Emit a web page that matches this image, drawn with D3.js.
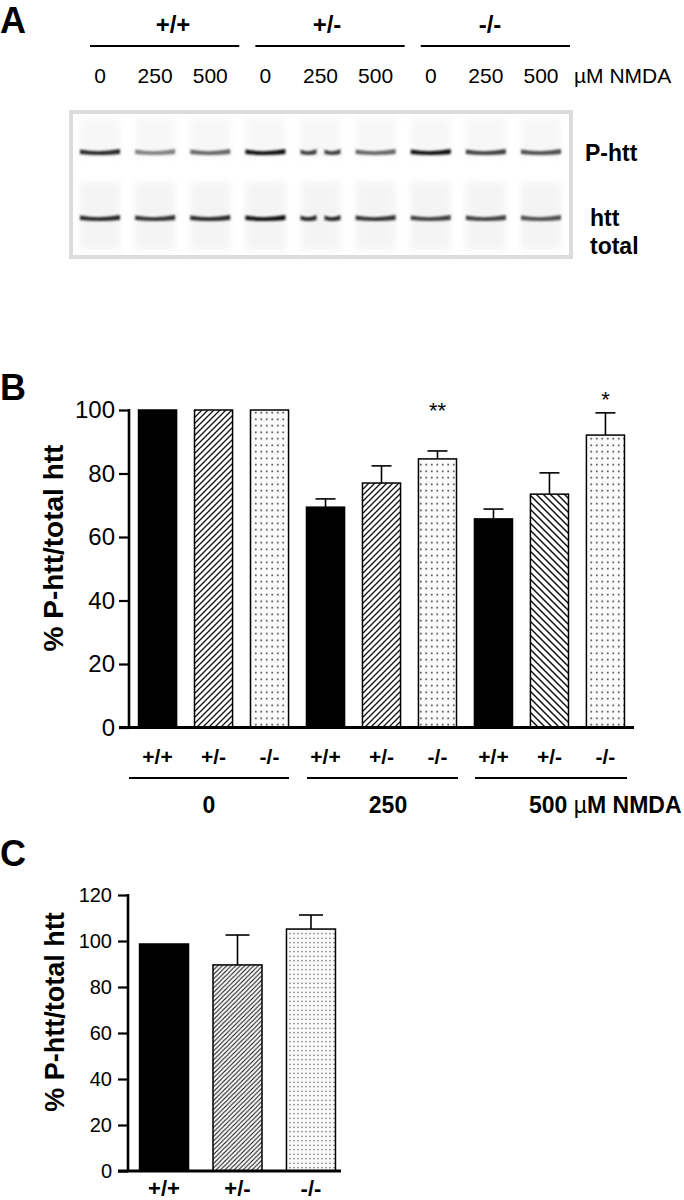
<!doctype html>
<html lang="en">
  <head>
    <meta charset="UTF-8"/>
    <title>P-htt / total htt</title>
    <script src="https://cdnjs.cloudflare.com/ajax/libs/d3/7.8.5/d3.min.js"></script>
    <style>
      body { margin: 0; background: #fff; }
      svg { display: block; font-family: "Liberation Sans", Arial, sans-serif; }
    </style>
  </head>
  <body>
    <div id="fig"></div>
    <script>
      // ---- data ----
      const genotypes = ["+/+", "+/-", "-/-"];
      const doses = ["0", "250", "500"];
      // blot lanes: genotype x dose, band darkness 0..1
      const laneDoses = ["0", "250", "500", "0", "250", "500", "0", "250", "500"];
      const pHttBand = [0.85, 0.5, 0.6, 0.95, 0.75, 0.6, 0.95, 0.75, 0.7];
      const httBand = [0.85, 0.8, 0.85, 0.95, 0.85, 0.8, 0.75, 0.75, 0.7];
      const splitLane = [false, false, false, false, true, false, false, false, false];

      // panel B: dose groups, 3 genotypes each
      const barGenoB = ["+/+", "+/-", "-/-", "+/+", "+/-", "-/-", "+/+", "+/-", "-/-"];
      const barDoseB = ["0", "0", "0", "250", "250", "250", "500", "500", "500"];
      const meanB = [100, 100, 100, 69.4, 77.0, 84.6, 65.7, 73.5, 92.1];
      const semB = [0, 0, 0, 2.6, 5.4, 2.5, 3.1, 6.7, 7.0];
      const starsB = ["", "", "", "", "", "**", "", "", "*"];
      const starLevelB = [0, 0, 0, 0, 0, 97.5, 0, 0, 101];
      const ticksB = [0, 20, 40, 60, 80, 100];

      // panel C
      const meanC = [98.7, 89.6, 105.2];
      const semC = [0, 13.0, 6.1];
      const ticksC = [0, 20, 40, 60, 80, 100, 120];

      const W = 684, H = 1200;
      const svg = d3.select("#fig").append("svg").attr("width", W).attr("height", H);
      const defs = svg.append("defs");

      // patterns
      function hatch(id, w, dir, sw) {
        const p = defs.append("pattern").attr("id", id)
          .attr("patternUnits", "userSpaceOnUse").attr("width", w).attr("height", w);
        p.append("rect").attr("width", w).attr("height", w).attr("fill", "#fff");
        const d = dir > 0
          ? `M0,${w} L${w},0 M${-w / 2},${w / 2} L${w / 2},${-w / 2} M${w / 2},${w * 1.5} L${w * 1.5},${w / 2}`
          : `M0,0 L${w},${w} M${-w / 2},${w / 2} L${w / 2},${w * 1.5} M${w / 2},${-w / 2} L${w * 1.5},${w / 2}`;
        p.append("path").attr("d", d).attr("stroke", "#111").attr("stroke-width", sw);
      }
      function dots(id, w, h, r) {
        const p = defs.append("pattern").attr("id", id)
          .attr("patternUnits", "userSpaceOnUse").attr("width", w).attr("height", h);
        p.append("rect").attr("width", w).attr("height", h).attr("fill", "#fbfbfb");
        p.append("circle").attr("cx", w / 2).attr("cy", h / 2).attr("r", r).attr("fill", "#333");
      }
      hatch("fwdB", 6, 1, 1.3);
      hatch("backB", 7, -1, 1.5);
      dots("dotB", 5.5, 6.5, 0.9);
      hatch("fwdC", 4.5, 1, 1.1);
      dots("dotC", 4, 4.5, 0.7);

      const blur = defs.append("filter").attr("id", "blur").attr("x", "-20%").attr("y", "-100%")
        .attr("width", "140%").attr("height", "300%");
      blur.append("feGaussianBlur").attr("stdDeviation", "1.3 1.1");
      const smear = defs.append("filter").attr("id", "smear");
      smear.append("feGaussianBlur").attr("stdDeviation", 3);

      function label(g, x, y, txt, size, opts = {}) {
        return g.append("text").attr("x", x).attr("y", y).text(txt)
          .attr("font-size", size)
          .attr("font-weight", opts.bold ? "bold" : null)
          .attr("text-anchor", opts.anchor || "middle")
          .attr("fill", "#000");
      }

      // ================= panel A =================
      const A = svg.append("g");
      label(A, 0, 33, "A", 36, { bold: true, anchor: "start" });

      const lane = d3.scalePoint().domain(d3.range(9)).range([100, 541]);

      // genotype headers with lines
      const headX = [173, 327, 490];
      genotypes.forEach((gname, i) => {
        const x0 = lane(i * 3) - 10, x1 = lane(i * 3 + 2) + 29;
        A.append("line").attr("x1", x0).attr("x2", x1).attr("y1", 46).attr("y2", 46)
          .attr("stroke", "#000").attr("stroke-width", 2);
        label(A, headX[i], 33, gname, 24, { bold: true });
      });
      laneDoses.forEach((d, i) => label(A, lane(i), 83, d, 21));
      label(A, 574, 83, "\u00b5M NMDA", 21, { anchor: "start" });

      // blot
      const blot = A.append("g");
      blot.append("rect").attr("x", 71).attr("y", 112).attr("width", 500).attr("height", 145)
        .attr("fill", "#fff").attr("stroke", "#dcdcdc").attr("stroke-width", 4);
      const bandW = 40;
      // faint lane smears
      lane.domain().forEach(i => {
        blot.append("rect").attr("x", lane(i) - bandW / 2).attr("y", 118).attr("width", bandW)
          .attr("height", 40).attr("fill", "#eee").attr("filter", "url(#smear)").attr("opacity", 0.45);
        blot.append("rect").attr("x", lane(i) - bandW / 2).attr("y", 182).attr("width", bandW)
          .attr("height", 68).attr("fill", "#eaeaea").attr("filter", "url(#smear)").attr("opacity", 0.5);
      });
      function band(yc, dark) {
        const g = d3.interpolateRgb("#fff", "#000");
        lane.domain().forEach(i => {
          const c = g(dark[i]);
          const x = lane(i);
          const segs = splitLane[i] ? [[x - bandW / 2, x - 4], [x + 4, x + bandW / 2]] : [[x - bandW / 2, x + bandW / 2]];
          segs.forEach(([a, b]) => {
            const p = d3.path();
            p.moveTo(a, yc - 2.5);
            p.quadraticCurveTo((a + b) / 2, yc + 1, b, yc - 3);
            p.lineTo(b, yc + 2);
            p.quadraticCurveTo((a + b) / 2, yc + 4, a, yc + 2);
            p.closePath();
            blot.append("path").attr("d", p.toString()).attr("fill", c).attr("filter", "url(#blur)");
          });
        });
      }
      band(152, pHttBand);
      band(218, httBand);

      label(A, 585, 161, "P-htt", 23, { bold: true, anchor: "start" });
      label(A, 590, 226, "htt", 23, { bold: true, anchor: "start" });
      label(A, 590, 254, "total", 23, { bold: true, anchor: "start" });

      // ================= bar panels =================
      function fillFor(geno, dose, panel) {
        if (geno === "+/+") return "#000";
        if (geno === "+/-") return panel === "C" ? "url(#fwdC)" : (dose === "500" ? "url(#backB)" : "url(#fwdB)");
        return panel === "C" ? "url(#dotC)" : "url(#dotB)";
      }

      function drawAxisY(g, y, ax, ticks, fs, pad) {
        const axis = d3.axisLeft(y).tickValues(ticks).tickSize(10).tickPadding(pad);
        const ga = g.append("g").attr("transform", `translate(${ax},0)`).call(axis);
        ga.select(".domain").attr("stroke-width", 2.6).attr("d", `M0,${y.range()[1] - 1}V${y.range()[0]}`);
        ga.selectAll(".tick line").attr("stroke-width", 2.2);
        ga.selectAll(".tick text").attr("font-size", fs).attr("fill", "#000")
          .attr("font-family", "Liberation Sans, Arial, sans-serif");
        return ga;
      }

      function drawBars(g, x, y, means, sems, fills, capW) {
        means.forEach((m, i) => {
          const bx = x(i), bw = x.bandwidth();
          if (sems[i] > 0) {
            g.append("line").attr("x1", bx + bw / 2).attr("x2", bx + bw / 2)
              .attr("y1", y(m)).attr("y2", y(m + sems[i])).attr("stroke", "#000").attr("stroke-width", 1.6);
            g.append("line").attr("x1", bx + bw / 2 - capW / 2).attr("x2", bx + bw / 2 + capW / 2)
              .attr("y1", y(m + sems[i])).attr("y2", y(m + sems[i])).attr("stroke", "#000").attr("stroke-width", 1.6);
          }
          g.append("rect").attr("x", bx).attr("y", y(m)).attr("width", bw).attr("height", y(0) - y(m))
            .attr("fill", fills[i]).attr("stroke", "#000").attr("stroke-width", 1.5);
        });
      }

      // ================= panel B =================
      const B = svg.append("g");
      label(B, 0, 400, "B", 36, { bold: true, anchor: "start" });
      const yB = d3.scaleLinear().domain([0, 100]).range([727.5, 410]);
      const xB = d3.scaleBand().domain(d3.range(9)).range([129, 634]).paddingInner(0.32).paddingOuter(0.17);
      drawAxisY(B, yB, 129, ticksB, 24, 4);
      drawBars(B, xB, yB, meanB, semB, barGenoB.map((g, i) => fillFor(g, barDoseB[i], "B")), 20);
      B.append("line").attr("x1", 119).attr("x2", 634).attr("y1", yB(0)).attr("y2", yB(0))
        .attr("stroke", "#000").attr("stroke-width", 3);
      starsB.forEach((s, i) => {
        if (!s) return;
        label(B, xB(i) + xB.bandwidth() / 2, yB(starLevelB[i]), s, 22);
      });
      B.append("text").attr("transform", "translate(63,548) rotate(-90)")
        .attr("text-anchor", "middle").attr("font-size", 28).attr("font-weight", "bold")
        .text("% P-htt/total htt");
      barGenoB.forEach((gname, i) => label(B, xB(i) + xB.bandwidth() / 2, 764, gname, 21, { bold: true }));
      const lineSpan = [[129, 289], [307, 458], [475, 627]];
      doses.forEach((d, i) => {
        B.append("line").attr("x1", lineSpan[i][0]).attr("x2", lineSpan[i][1]).attr("y1", 778).attr("y2", 778)
          .attr("stroke", "#000").attr("stroke-width", 2);
      });
      label(B, 209, 813, doses[0], 23, { bold: true });
      label(B, 388, 813, doses[1], 23, { bold: true });
      const t500 = label(B, 529, 813, doses[2] + " ", 23, { bold: true, anchor: "start" });
      t500.append("tspan").attr("font-weight", "normal").text("\u00b5");
      t500.append("tspan").text("M NMDA");

      // ================= panel C =================
      const C = svg.append("g");
      label(C, 0, 866, "C", 36, { bold: true, anchor: "start" });
      const yC = d3.scaleLinear().domain([0, 120]).range([1171, 895]);
      const xC = d3.scaleBand().domain(d3.range(3)).range([131, 344]).paddingInner(0.333).paddingOuter(0.116);
      drawAxisY(C, yC, 128, ticksC, 20, 6);
      drawBars(C, xC, yC, meanC, semC, genotypes.map(g => fillFor(g, "0", "C")), 24);
      C.append("line").attr("x1", 118).attr("x2", 341).attr("y1", yC(0)).attr("y2", yC(0))
        .attr("stroke", "#000").attr("stroke-width", 3);
      C.append("text").attr("transform", "translate(64,1012) rotate(-90)")
        .attr("text-anchor", "middle").attr("font-size", 27).attr("font-weight", "bold")
        .text("% P-htt/total htt");
      genotypes.forEach((gname, i) => label(C, xC(i) + xC.bandwidth() / 2, 1196, gname, 22, { bold: true }));
    </script>
  </body>
</html>
